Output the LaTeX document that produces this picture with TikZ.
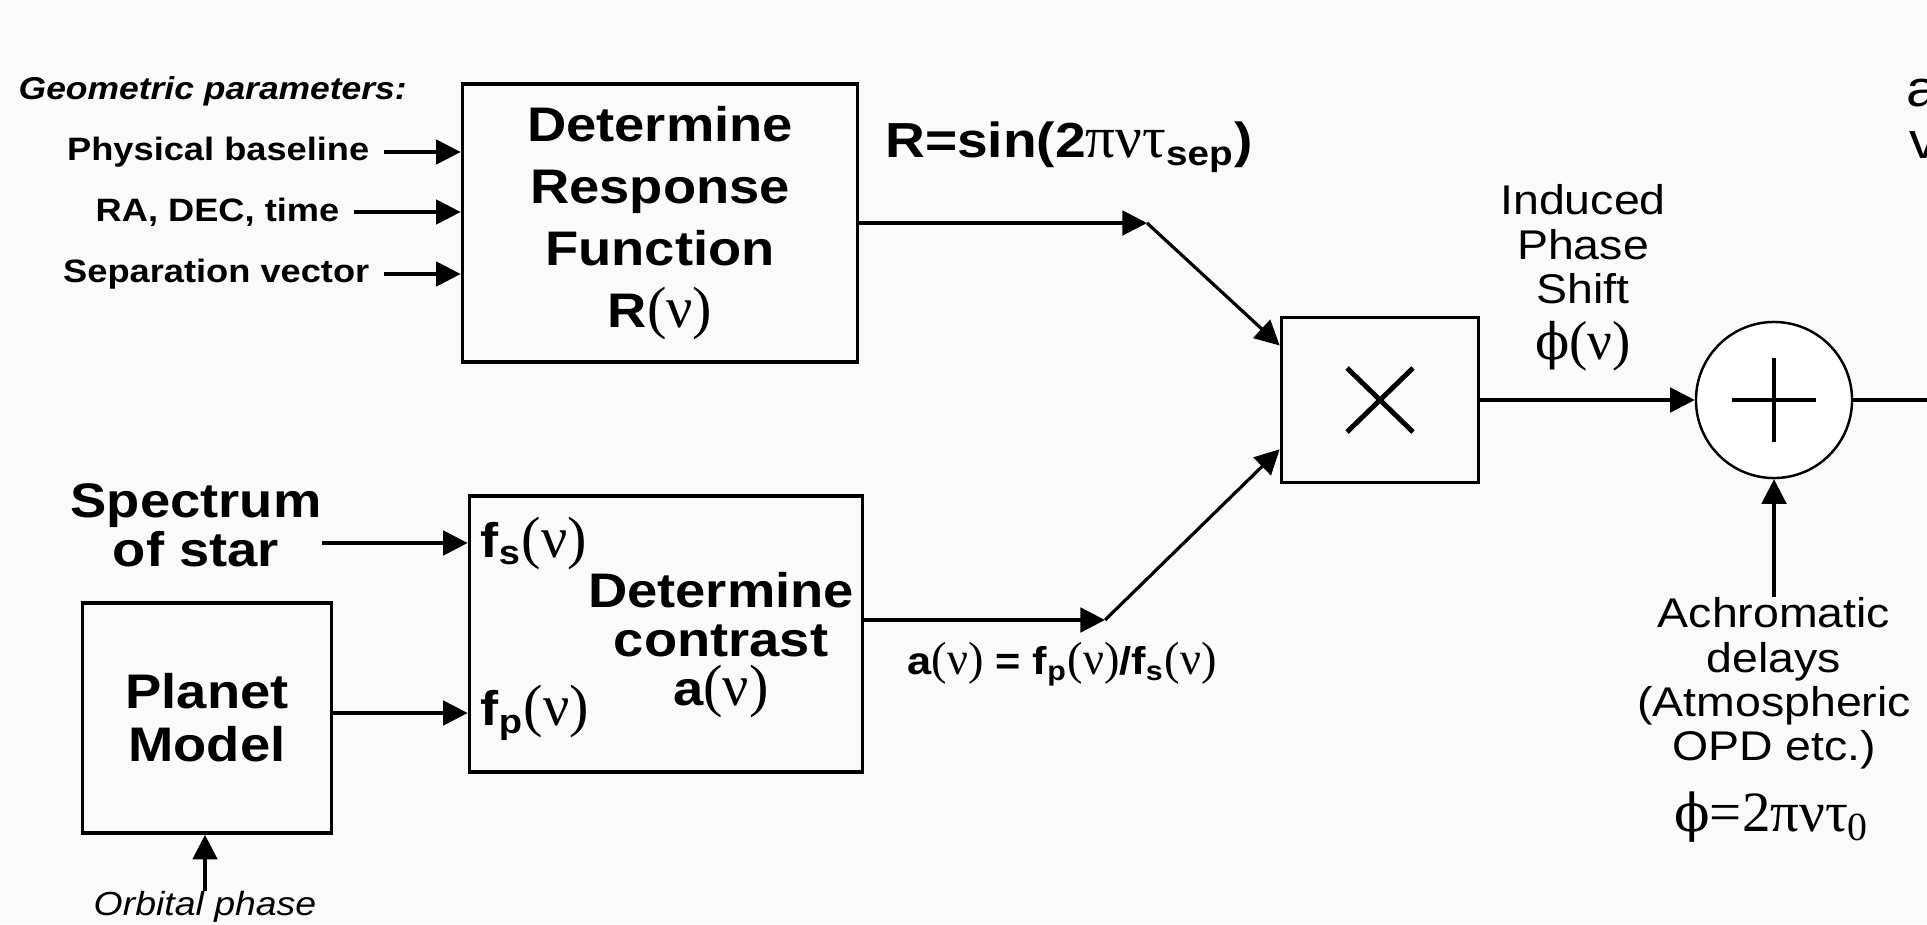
\documentclass[tikz,border=0pt]{standalone}
\usepackage{fontspec}
\setmainfont[FakeStretch=1.12]{Liberation Sans}
\newfontfamily\grk[Scale=1.2]{Liberation Serif}
\newfontfamily\phifont[Scale=1.1]{DejaVu Serif}
\usetikzlibrary{arrows.meta}
\definecolor{bgc}{RGB}{250,250,250}
\newcommand{\argnu}{{\grk\mdseries(ν)}}

\begin{document}
\begin{tikzpicture}[x=0.01cm,y=-0.01cm,
  wire/.style={line width=0.9pt},
  arr/.style={wire,-{Triangle[length=7pt,width=7pt]}},
  blk/.style={draw,line width=1pt,inner sep=0pt},
  lbl/.style={inner sep=0pt,font=\fontsize{9.2}{11}\selectfont\bfseries},
  big/.style={inner sep=0pt,align=center,font=\fontsize{13.8}{17.6}\selectfont\bfseries},
  thin/.style={inner sep=0pt,align=center,font=\fontsize{11.8}{12.6}\selectfont}]
\useasboundingbox[fill=bgc] (0,0) rectangle (1927,924);
\node[lbl,anchor=west,font=\fontsize{9}{11}\selectfont\bfseries\itshape] (geom) at (18,91) {Geometric parameters:};
\node[lbl,anchor=east] (pb) at (370,152) {Physical baseline};
\node[lbl,anchor=east] (radec) at (340,212) {RA, DEC, time};
\node[lbl,anchor=east] (sepv) at (370,274) {Separation vector};
\node[blk,big,minimum width=3.95cm,minimum height=2.78cm] (resp) at (660,223) {Determine\\Response\\Function\\R\argnu};
\draw[arr] ([xshift=4pt]pb.east) -- (pb.east -| resp.west);
\draw[arr] ([xshift=4pt]radec.east) -- (radec.east -| resp.west);
\draw[arr] ([xshift=4pt]sepv.east) -- (sepv.east -| resp.west);
\node[inner sep=0pt,font=\fontsize{14}{17}\selectfont\bfseries] (rlab) at (1069,147) {R=sin(2{\grk\mdseries πντ}\textsubscript{sep})};
\coordinate (jr) at (1147,223);
\node[blk,minimum width=1.97cm,minimum height=1.65cm] (mult) at (1380,400) {};
\draw[line width=1.4pt] ([shift={(-33,-32)}]mult.center) -- ([shift={(33,32)}]mult.center) ([shift={(-33,32)}]mult.center) -- ([shift={(33,-32)}]mult.center);
\draw[arr] (resp) -- (jr);
\draw[arr] (jr) -- ([yshift=15.5pt]mult.west);
\node[big,font=\fontsize{13.8}{12.5}\selectfont\bfseries] (spec) at (196,525) {Spectrum\\of star};
\node[blk,big,minimum width=3.93cm,minimum height=2.76cm] (contr) at (666,634) {};
\node[big,font=\fontsize{13.8}{14}\selectfont\bfseries] (ctxt) at (721,645) {Determine\\contrast\\a\argnu};
\node[inner sep=0pt,anchor=west,font=\fontsize{13.8}{16}\selectfont\bfseries] (fs) at (480,543) {f\textsubscript{s}\argnu};
\node[inner sep=0pt,anchor=west,font=\fontsize{13.8}{16}\selectfont\bfseries] (fp) at (480,713) {f\textsubscript{p}\argnu};
\node[blk,big,minimum width=2.49cm,minimum height=2.30cm,font=\fontsize{13.8}{15}\selectfont\bfseries] (planet) at (207,718) {Planet\\Model};
\draw[arr] (spec.east |- fs.west) -- (contr.west |- fs.west);
\draw[arr] (planet.east |- fp.west) -- (contr.west |- fp.west);
\node[inner sep=0pt,anchor=north,font=\fontsize{9.5}{11}\selectfont\itshape] (orb) at (205,891) {Orbital phase};
\draw[arr] (orb.north) -- (orb.north |- planet.south);
\coordinate (jc) at (1105,620);
\draw[arr] (contr.east |- jc) -- (jc);
\draw[arr] (jc) -- ([yshift=-14pt]mult.west);
\node[inner sep=0pt,font=\fontsize{11}{13}\selectfont\bfseries] (alab) at (1062,664) {a\argnu\ = f\textsubscript{p}\argnu/f\textsubscript{s}\argnu};
\node[draw,circle,line width=0.7pt,fill=white,minimum size=1.56cm,inner sep=0pt] (sum) at (1774,400) {};
\draw[line width=1.2pt] ([shift={(-42,0)}]sum.center) -- ([shift={(42,0)}]sum.center) ([shift={(0,-42)}]sum.center) -- ([shift={(0,42)}]sum.center);
\draw[arr] (mult) -- (sum);
\coordinate (outR) at (1935,400);
\draw[wire] (sum) -- (outR);
\node[thin,anchor=north] (ind) at (1583,184) {Induced\\Phase\\Shift};
\node[inner sep=0pt,font=\fontsize{13}{16}\selectfont] (indphi) at (1583,346) {{\phifont ϕ}{\grk(ν)}};
\node[thin,anchor=north] (ach) at (1774,597) {Achromatic\\delays\\(Atmospheric\\OPD etc.)};
\draw[arr] (ach) -- (sum);
\node[inner sep=0pt,font=\fontsize{13.5}{17}\selectfont\grk] (phi0) at (1772,817) {{\phifont ϕ}=2πντ\textsubscript{0}};
\node[anchor=west,inner sep=0pt,font=\fontsize{14.5}{17}\selectfont] (cuta) at (1906,93) {a};
\node[anchor=west,inner sep=0pt,font=\fontsize{14.5}{17}\selectfont] (cutv) at (1909,145) {v};
\end{tikzpicture}
\end{document}
